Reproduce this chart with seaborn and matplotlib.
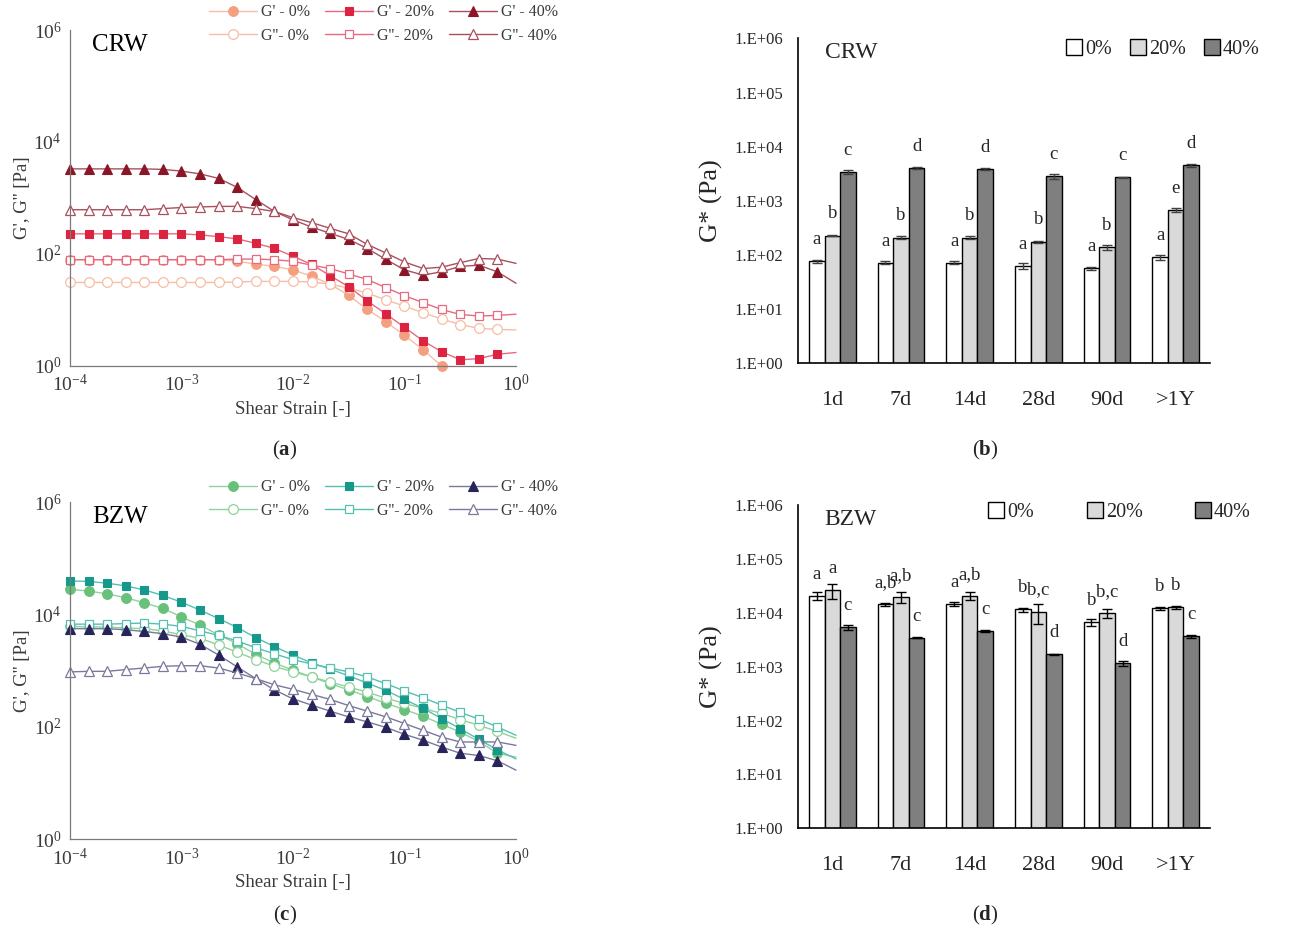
import numpy as np
import pandas as pd
import matplotlib
matplotlib.use('Agg')
import matplotlib.pyplot as plt
import seaborn as sns
from matplotlib.ticker import LogLocator, NullLocator, FuncFormatter, NullFormatter, FixedLocator

sns.set_style('white')
plt.rcParams['font.family'] = ['Liberation Serif', 'DejaVu Serif']
plt.rcParams['mathtext.fontset'] = 'custom'
plt.rcParams['mathtext.rm'] = 'Liberation Serif'
plt.rcParams['mathtext.it'] = 'Liberation Serif:italic'
plt.rcParams['mathtext.bf'] = 'Liberation Serif:bold'

# ---- amplitude sweep data (strain in [-], moduli in Pa) ----
STRAIN = [1.00e-4, 1.47e-4, 2.15e-4, 3.16e-4, 4.64e-4, 6.81e-4,
          1.00e-3, 1.47e-3, 2.15e-3, 3.16e-3, 4.64e-3, 6.81e-3,
          1.00e-2, 1.47e-2, 2.15e-2, 3.16e-2, 4.64e-2, 6.81e-2,
          1.00e-1, 1.47e-1, 2.15e-1, 3.16e-1, 4.64e-1, 6.81e-1]
STRAIN_END = 1.0  # fitted curves run on to the axis end

# CRW
crw_gp_0 = [79, 79, 79, 79, 79, 79, 79, 79, 79, 74, 66, 60, 52, 40, 29, 18.2,
            10.2, 6.2, 3.5, 1.95, 1.0]
crw_gpp_0 = [31, 31, 31, 31, 31, 31, 31, 31, 31, 31.6, 32.4, 32.4, 32.4, 31.6, 29,
             24.5, 20, 15.1, 11.7, 8.9, 6.9, 5.5, 4.7, 4.5]
crw_gp_20 = [229, 229, 229, 229, 229, 229, 229, 219, 204, 186, 155, 126, 91, 65, 41,
             26, 14.5, 8.5, 4.9, 2.8, 1.8, 1.29, 1.35, 1.62]
crw_gpp_20 = [79, 79, 79, 79, 79, 79, 79, 79, 79, 81, 81, 79, 74, 63, 55, 44, 35,
              25, 18, 13.5, 10.2, 8.3, 7.8, 8.0]
crw_gp_40 = [3310, 3310, 3310, 3310, 3310, 3240, 3020, 2690, 2240, 1550, 933, 575,
             407, 302, 234, 182, 125, 80, 52, 42, 48, 60, 63, 48]
crw_gpp_40 = [617, 617, 617, 617, 617, 646, 676, 692, 708, 708, 646, 575, 447, 363,
              288, 229, 148, 104, 72, 55, 58, 70, 83, 81]
# curve value at strain = 1 (None: leaves the axes)
crw_end = {'gp_0': None, 'gpp_0': 4.4, 'gp_20': 1.74, 'gpp_20': 8.4,
           'gp_40': 30, 'gpp_40': 68}

# BZW
bzw_gp_0 = [28200, 26300, 23400, 20000, 16200, 12900, 9120, 6460, 4370, 3020, 1950,
            1380, 1020, 776, 589, 457, 347, 263, 204, 155, 112, 81, 55, 34]
bzw_gpp_0 = [6170, 6030, 6030, 5750, 5620, 5130, 4370, 3800, 2880, 2140, 1580, 1200,
             955, 776, 631, 513, 417, 324, 263, 214, 174, 135, 107, 83]
bzw_gp_20 = [39800, 38900, 36300, 32400, 27500, 21900, 16600, 12000, 8510, 5890, 3890,
             2690, 1910, 1380, 1070, 813, 603, 447, 309, 214, 141, 93, 60, 39]
bzw_gpp_20 = [6760, 6760, 6760, 6920, 7080, 6760, 6170, 5130, 4270, 3390, 2570, 2000,
              1580, 1320, 1120, 955, 776, 589, 437, 331, 245, 182, 138, 100]
bzw_gp_40 = [5620, 5620, 5620, 5370, 5010, 4570, 3980, 2950, 1910, 1170, 724, 457,
             316, 245, 191, 151, 123, 98, 74, 58, 44, 34, 31, 25]
bzw_gpp_40 = [955, 977, 977, 1050, 1120, 1200, 1230, 1230, 1120, 912, 724, 562, 468,
              380, 309, 240, 191, 151, 115, 87, 66, 54, 54, 54]
bzw_end = {'gp_0': 29, 'gpp_0': 63, 'gp_20': 27, 'gpp_20': 71,
           'gp_40': 17, 'gpp_40': 47}

# ---- complex modulus vs storage time ----
TIMES = ['1d', '7d', '14d', '28d', '90d', '>1Y']
CONCS = ['0%', '20%', '40%']

crw_g0 = [76, 72, 72, 63, 57, 91]
crw_g20 = [229, 209, 209, 177, 138, 676]
crw_g40 = [3380, 3990, 3820, 2880, 2700, 4550]
crw_e0 = [6, 4, 4, 7, 3, 10]
crw_e20 = [8, 12, 15, 8, 15, 60]
crw_e40 = [300, 150, 180, 300, 80, 250]
crw_letters = [['a', 'b', 'c'], ['a', 'b', 'd'], ['a', 'b', 'd'],
               ['a', 'b', 'c'], ['a', 'b', 'c'], ['a', 'e', 'd']]

bzw_g0 = [20400, 14400, 14400, 11500, 6600, 12100]
bzw_g20 = [26000, 19800, 20400, 10500, 9800, 12600]
bzw_g40 = [5370, 3460, 4650, 1700, 1150, 3700]
bzw_e0 = [3500, 1000, 1300, 1000, 1000, 800]
bzw_e20 = [8000, 4500, 3500, 4200, 1800, 600]
bzw_e40 = [500, 50, 200, 50, 120, 250]
bzw_letters = [['a', 'a', 'c'], ['a,b', 'a,b', 'c'], ['a', 'a,b', 'c'],
               ['b', 'b,c', 'd'], ['b', 'b,c', 'd'], ['b', 'b', 'c']]

CRW_COLORS = {'0': ('#F4A080', '#F7BDA6'), '20': ('#DC2340', '#E66A80'),
              '40': ('#8A1628', '#A8505E')}
BZW_COLORS = {'0': ('#68C07A', '#8FD29C'), '20': ('#16998A', '#55C0B3'),
              '40': ('#27245A', '#7A789C')}
BAR_COLORS = ['#FFFFFF', '#D9D9D9', '#7F7F7F']

AX_GRAY = '#7a7a7a'
TXT_GRAY = '#3a3a3a'


def curve(ax, y, end, color, mk, ms, mfc, mec, mew, label):
    """Markers at the measured points, line carried on to strain = 1."""
    xs = STRAIN[:len(y)]
    ys = list(y)
    if end is not None:
        xs = xs + [STRAIN_END]
        ys = ys + [end]
    sns.lineplot(x=xs, y=ys, ax=ax, color=color, lw=1.0, marker=mk, markersize=ms,
                 markerfacecolor=mfc, markeredgecolor=mec, markeredgewidth=mew,
                 markevery=list(range(len(y))), errorbar=None, sort=False,
                 label=label, clip_on=False)


def strain_panel(ax, series, ends, colors, title, legend_anchor, fig):
    """G', G'' vs strain on log-log axes."""
    for key, gp, gpp, mk, ms in series:
        c_fill, c_open = colors[key]
        curve(ax, gp, ends['gp_' + key], c_open, mk, ms, c_fill, c_fill, 0.8,
              f"G' - {key}%")
        curve(ax, gpp, ends['gpp_' + key], c_open, mk, ms, 'white', c_open, 0.9,
              f"G''- {key}%")
    ax.set_xscale('log')
    ax.set_yscale('log')
    ax.set_xlim(1e-4, 1)
    ax.set_ylim(1, 1e6)
    ax.xaxis.set_major_locator(FixedLocator([1e-4, 1e-3, 1e-2, 1e-1, 1]))
    ax.yaxis.set_major_locator(FixedLocator([1, 1e2, 1e4, 1e6]))
    ax.xaxis.set_minor_locator(LogLocator(base=10, subs=np.arange(1, 10), numticks=100))
    ax.yaxis.set_minor_locator(LogLocator(base=10, subs=np.arange(1, 10), numticks=100))
    ax.xaxis.set_minor_formatter(NullFormatter())
    ax.yaxis.set_minor_formatter(NullFormatter())
    for s in ['top', 'right']:
        ax.spines[s].set_visible(False)
    for s in ['left', 'bottom']:
        ax.spines[s].set_color(AX_GRAY)
        ax.spines[s].set_linewidth(0.9)
    ax.tick_params(which='both', direction='in', colors=AX_GRAY, labelcolor=TXT_GRAY,
                   labelsize=14, width=0.8)
    ax.tick_params(which='major', length=5, pad=6)
    ax.tick_params(which='minor', length=2.5)
    ax.set_xlabel('Shear Strain [-]', fontsize=13.5, color=TXT_GRAY, labelpad=4)
    ax.set_ylabel("G', G'' [Pa]", fontsize=13.5, color=TXT_GRAY, labelpad=2)
    ax.text(0.05, 0.955, title, transform=ax.transAxes, fontsize=18,
            ha='left', va='center', color='black')
    h, l = ax.get_legend_handles_labels()
    ax.legend(h, l, ncol=3, loc='upper right', bbox_to_anchor=legend_anchor,
              bbox_transform=fig.transFigure, frameon=False, fontsize=11.5,
              handlelength=3.0, handletextpad=0.3, columnspacing=0.9,
              labelspacing=0.45, borderaxespad=0, borderpad=0.1,
              labelcolor=TXT_GRAY)


def bar_panel(ax, g0, g20, g40, e0, e20, e40, letters, title, legend_anchor,
              colspace, err_color, fig):
    """G* vs storage time, grouped bars on log axis."""
    df = pd.DataFrame({
        'time': TIMES * 3,
        'conc': [c for c in CONCS for _ in TIMES],
        'G': g0 + g20 + g40,
    })
    sns.barplot(data=df, x='time', y='G', hue='conc', order=TIMES, hue_order=CONCS,
                palette=BAR_COLORS, edgecolor='black', linewidth=1.0, width=0.68,
                errorbar=None, saturation=1, ax=ax)
    ax.set_yscale('log')
    ax.set_ylim(1, 1e6)
    ax.set_xlim(-0.5, 5.5)
    errs = [e0, e20, e40]
    vals = [g0, g20, g40]
    bar_conts = list(ax.containers)
    for j, cont in enumerate(bar_conts):
        for i, p in enumerate(cont.patches):
            xc = p.get_x() + p.get_width() / 2
            ax.errorbar(xc, vals[j][i], yerr=errs[j][i], fmt='none',
                        ecolor=err_color, elinewidth=1.0, capsize=3.5, capthick=1.0)
            ax.text(xc, vals[j][i] * 10 ** 0.4, letters[i][j], ha='center',
                    va='center', fontsize=13.5)
    ax.yaxis.set_major_locator(FixedLocator([1, 1e1, 1e2, 1e3, 1e4, 1e5, 1e6]))
    ax.yaxis.set_minor_locator(NullLocator())
    ax.yaxis.set_major_formatter(FuncFormatter(
        lambda v, _: f"1.E+{int(round(np.log10(v))):02d}"))
    ax.set_xticks(range(len(TIMES)))
    ax.set_xticklabels(TIMES)
    ax.xaxis.set_minor_locator(FixedLocator(np.arange(-0.5, 6.0, 1.0)))
    ax.tick_params(axis='x', which='major', length=0, pad=20, labelsize=16)
    ax.tick_params(axis='x', which='minor', length=8, width=1.2, direction='out')
    ax.tick_params(axis='y', which='major', length=6, width=1.2, direction='out',
                   labelsize=12, pad=5)
    for s in ['top', 'right']:
        ax.spines[s].set_visible(False)
    for s in ['left', 'bottom']:
        ax.spines[s].set_color('black')
        ax.spines[s].set_linewidth(1.2)
    ax.set_xlabel('')
    ax.set_ylabel('G* (Pa)', fontsize=19, labelpad=8)
    ax.text(0.065, 0.955, title, transform=ax.transAxes, fontsize=17,
            ha='left', va='center')
    h, l = ax.get_legend_handles_labels()
    ax.legend(h, l, ncol=3, loc='upper right', bbox_to_anchor=legend_anchor,
              bbox_transform=fig.transFigure, frameon=False, fontsize=14.5,
              handlelength=0.8, handleheight=0.8, handletextpad=0.15,
              columnspacing=colspace, borderaxespad=0, borderpad=0.1)


fig = plt.figure(figsize=(12.89, 9.35), dpi=100)
ax_a = fig.add_axes([0.0543, 0.6086, 0.3460, 0.3593])
ax_b = fig.add_axes([0.6191, 0.6114, 0.3196, 0.3476])
ax_c = fig.add_axes([0.0543, 0.1024, 0.3460, 0.3604])
ax_d = fig.add_axes([0.6191, 0.1141, 0.3196, 0.3458])

strain_panel(ax_a,
             [('0', crw_gp_0, crw_gpp_0, 'o', 7),
              ('20', crw_gp_20, crw_gpp_20, 's', 6),
              ('40', crw_gp_40, crw_gpp_40, '^', 7.5)],
             crw_end, CRW_COLORS, 'CRW', (0.4345, 0.997), fig)
strain_panel(ax_c,
             [('0', bzw_gp_0, bzw_gpp_0, 'o', 7),
              ('20', bzw_gp_20, bzw_gpp_20, 's', 6),
              ('40', bzw_gp_40, bzw_gpp_40, '^', 7.5)],
             bzw_end, BZW_COLORS, 'BZW', (0.4345, 0.489), fig)

bar_panel(ax_b, crw_g0, crw_g20, crw_g40, crw_e0, crw_e20, crw_e40, crw_letters,
          'CRW', (0.979, 0.960), 0.9, '#404040', fig)
bar_panel(ax_d, bzw_g0, bzw_g20, bzw_g40, bzw_e0, bzw_e20, bzw_e40, bzw_letters,
          'BZW', (0.972, 0.465), 2.6, 'black', fig)

for x, y, s in [(0.2211, 0.5187, 'a'), (0.7642, 0.5187, 'b'),
                (0.2211, 0.0214, 'c'), (0.7642, 0.0214, 'd')]:
    fig.text(x, y, r'($\mathbf{' + s + '}$)', ha='center', va='center', fontsize=15)

fig.savefig('out.png', dpi=100)
